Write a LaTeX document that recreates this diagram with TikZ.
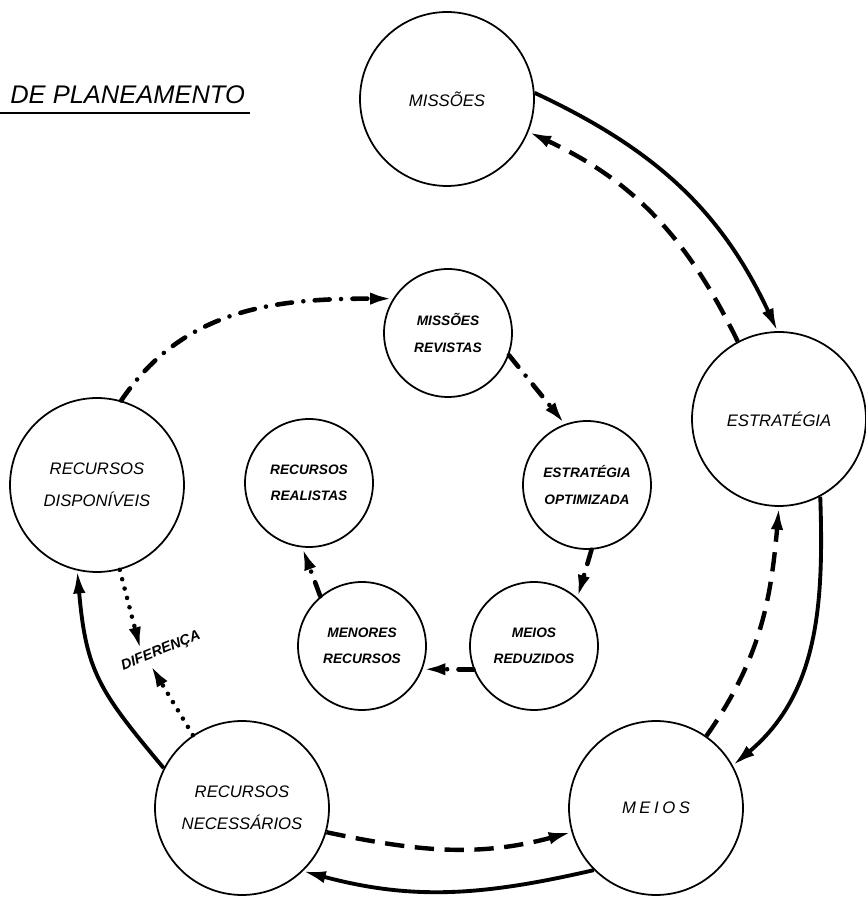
\documentclass[tikz,border=0pt]{standalone}
\usepackage{fontspec}
\setsansfont{Liberation Sans}
\usetikzlibrary{arrows.meta}

\tikzset{
  big/.style={circle,draw,line width=1pt,minimum size=3.48cm,inner sep=0pt,align=center,
    font=\sffamily\itshape\fontsize{9.5}{18}\selectfont},
  small/.style={circle,draw,line width=1pt,minimum size=2.56cm,inner sep=0pt,align=center,
    font=\sffamily\itshape\bfseries\fontsize{7.8}{15}\selectfont},
  tip/.style={-{Latex[length=13pt,width=7pt]}},
  full/.style={tip,line width=2.2pt},
  dashline/.style={tip,line width=2.5pt,dash pattern=on 11pt off 6pt},
  dashdot/.style={tip,line width=2.6pt,line cap=round,dash pattern=on 8.5pt off 6.5pt on 0pt off 6.5pt},
  dotline/.style={tip,line width=2.6pt,line cap=round,dash pattern=on 0pt off 5.5pt},
}

\begin{document}
\begin{tikzpicture}[x=0.02cm,y=0.02cm]
    \useasboundingbox (0,0) rectangle (866,897);
    % title
    \node [anchor=west,inner sep=0pt,font=\sffamily\itshape\fontsize{14.5}{17}\selectfont] (title) at (10,802) {DE PLANEAMENTO};
    \draw [line width=1.5pt] (0,784) -- (250,784);

    % outer cycle
    \node [big] (mis) at (447,798) {MISSÕES};
    \node [big] (est) at (779,478) {ESTRATÉGIA};
    \node [big] (mei) at (656,89) {M\kern2pt E\kern2pt I\kern2pt O\kern2pt S};
    \node [big] (rn) at (242,89) {RECURSOS\\NECESSÁRIOS};
    \node [big] (rd) at (97,412) {RECURSOS\\DISPONÍVEIS};

    % inner cycle
    \node [small] (mrv) at (448,564) {MISSÕES\\REVISTAS};
    \node [small] (eop) at (587,412) {ESTRATÉGIA\\OPTIMIZADA};
    \node [small] (mrd) at (534,251) {MEIOS\\REDUZIDOS};
    \node [small] (mnr) at (362,251) {MENORES\\RECURSOS};
    \node [small] (rre) at (309,414) {RECURSOS\\REALISTAS};

    \node [rotate=22,inner sep=1pt,font=\sffamily\itshape\bfseries\fontsize{8.2}{10}\selectfont] (dif) at (161,246) {DIFERENÇA};

    \draw [full] (mis.4) to [out=-25,in=115] (est.91);
    \draw [dashline] (est.118) to [out=116,in=-25] (mis.-22);
    \draw [full] (est.-62) to [out=-88,in=40] (mei.29);
    \draw [dashline] (mei.55) to [out=55,in=-95] (est.-90);
    \draw [full] (mei.-135) to [out=193,in=-15] (rn.-46);
    \draw [dashline] (rn.-16) to [out=-12,in=195] (mei.196);
    \draw [full] (rn.153) to [out=130,in=-85,looseness=1.2] (rd.257);

    \draw [dashdot] (rd.74) to [out=56,in=180] (mrv.148);
    \draw [dashdot] (mrv.-20) -- (eop.110);
    \draw [dashdot] (eop.-86) -- (mrd.48);
    \draw [dashdot] (mrd.201) -- (mnr.-21);
    \draw [dashdot] (mnr.130) -- (rre.-96);

    \draw [dotline] (rd.-75) -- (dif.155);
    \draw [dotline] (rn.124) -- (dif.210);
\end{tikzpicture}
\end{document}
